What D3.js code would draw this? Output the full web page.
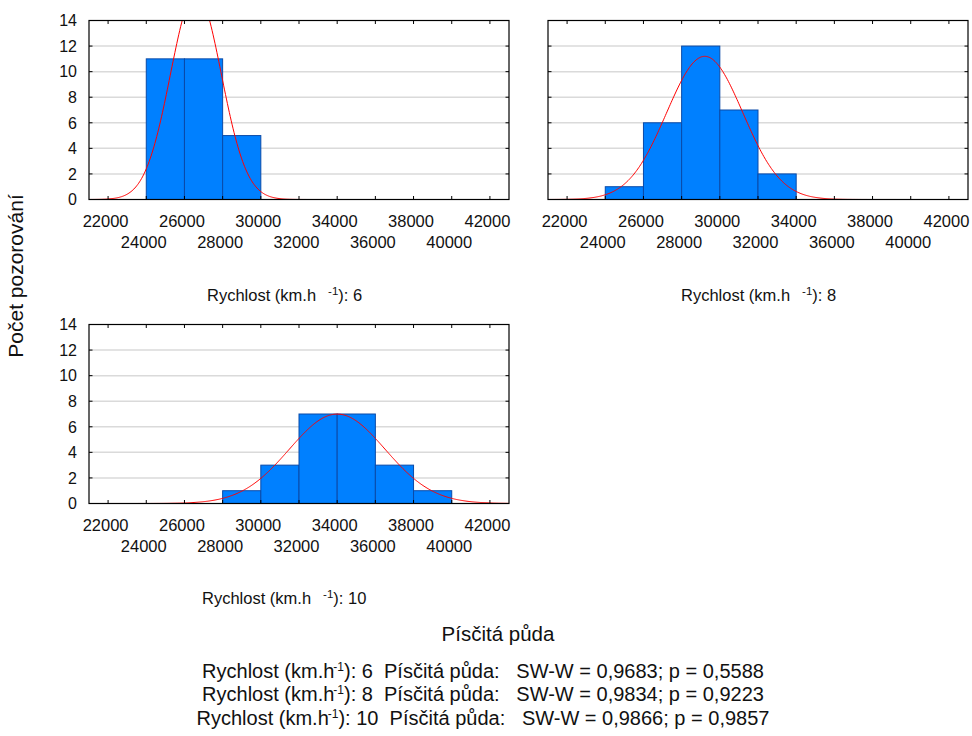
<!DOCTYPE html>
<html>
<head>
<meta charset="utf-8">
<script src="https://cdn.jsdelivr.net/npm/d3@7"></script>
<style>
  body { margin: 0; background: #fff; }
  svg { display: block; font-family: "Liberation Sans", Arial, sans-serif; }
</style>
</head>
<body>
<svg id="chart" width="972" height="736"></svg>
<script>
// ---- data ----
const binStarts = [22000, 24000, 26000, 28000, 30000, 32000, 34000, 36000, 38000, 40000];
const binWidth = 2000;
const counts6  = [0, 11, 11, 5, 0, 0, 0, 0, 0, 0];
const counts8  = [0, 1, 6, 12, 7, 2, 0, 0, 0, 0];
const counts10 = [0, 0, 0, 1, 3, 7, 7, 3, 1, 0];
const fitMeans = [26600, 29210, 34000];
const fitSDs   = [1330, 1995, 2510];
const speeds   = ["6", "8", "10"];
const xTickValues = [22000, 24000, 26000, 28000, 30000, 32000, 34000, 36000, 38000, 40000, 42000];
const yTickValues = [0, 2, 4, 6, 8, 10, 12, 14];
const swW = ["0,9683", "0,9834", "0,9866"];
const pVals = ["0,5588", "0,9223", "0,9857"];
const yTitle = "Počet pozorování";
const soilTitle = "Písčitá půda";

// ---- layout ----
const panels = [
  { counts: counts6,  left: 89,  right: 509, top: 20.5,  bottom: 199.5, labelX: 207, labelY: 301 },
  { counts: counts8,  left: 548, right: 968, top: 20.5,  bottom: 199.5, labelX: 681, labelY: 301 },
  { counts: counts10, left: 89,  right: 509, top: 324.5, bottom: 503.5, labelX: 202, labelY: 604 }
];

const svg = d3.select("#chart");
const defs = svg.append("defs");

panels.forEach((p, i) => {
  const x = d3.scaleLinear().domain([21000, 43000]).range([p.left, p.right]);
  const y = d3.scaleLinear().domain([0, 14]).range([p.bottom, p.top]);
  const g = svg.append("g");

  defs.append("clipPath").attr("id", "clip" + i)
    .append("rect").attr("x", p.left).attr("y", p.top)
    .attr("width", p.right - p.left).attr("height", p.bottom - p.top);

  // gridlines
  g.selectAll(".grid").data(yTickValues.filter(v => v > 0 && v < 14)).enter()
    .append("line")
    .attr("x1", p.left).attr("x2", p.right)
    .attr("y1", d => y(d)).attr("y2", d => y(d))
    .attr("stroke", "#dadada").attr("stroke-width", 1.5);

  const data = binStarts.map((b, k) => ({ x0: b, x1: b + binWidth, n: p.counts[k] }));
  const cg = g.append("g").attr("clip-path", `url(#clip${i})`);
  // zero baseline of empty bins
  cg.append("line").attr("x1", p.left).attr("x2", p.right)
    .attr("y1", y(0)).attr("y2", y(0))
    .attr("stroke", "#1a3f8f").attr("stroke-width", 1.2);
  cg.selectAll(".bar").data(data.filter(d => d.n > 0)).enter()
    .append("rect")
    .attr("x", d => x(d.x0)).attr("width", d => x(d.x1) - x(d.x0))
    .attr("y", d => y(d.n)).attr("height", d => y(0) - y(d.n))
    .attr("fill", "#0080ff").attr("stroke", "#0a4aa8").attr("stroke-width", 1);

  // fitted normal curve
  const n = d3.sum(p.counts);
  const mu = fitMeans[i], sd = fitSDs[i];
  const xs = d3.range(21000, 43001, 50);
  const line = d3.line()
    .x(v => x(v))
    .y(v => y(n * binWidth / (sd * Math.sqrt(2 * Math.PI)) * Math.exp(-((v - mu) ** 2) / (2 * sd * sd))));
  cg.append("path").datum(xs).attr("d", line)
    .attr("fill", "none").attr("stroke", "#ff0000").attr("stroke-width", 1);

  // frame
  g.append("rect").attr("x", p.left).attr("y", p.top)
    .attr("width", p.right - p.left).attr("height", p.bottom - p.top)
    .attr("fill", "none").attr("stroke", "#000").attr("stroke-width", 1.2);

  // inside ticks
  const tl = 3.5;
  xTickValues.forEach(v => {
    g.append("line").attr("x1", x(v)).attr("x2", x(v)).attr("y1", p.top).attr("y2", p.top + tl).attr("stroke", "#000");
    g.append("line").attr("x1", x(v)).attr("x2", x(v)).attr("y1", p.bottom).attr("y2", p.bottom - tl).attr("stroke", "#000");
  });
  yTickValues.forEach(v => {
    g.append("line").attr("x1", p.left).attr("x2", p.left + tl).attr("y1", y(v)).attr("y2", y(v)).attr("stroke", "#000");
    g.append("line").attr("x1", p.right).attr("x2", p.right - tl).attr("y1", y(v)).attr("y2", y(v)).attr("stroke", "#000");
  });

  // y tick labels (only panels on the left)
  if (p.left < 300) {
    g.selectAll(".yl").data(yTickValues).enter().append("text")
      .attr("x", p.left - 12).attr("y", d => y(d) + 5.8)
      .attr("text-anchor", "end").attr("font-size", 16).attr("fill", "#111")
      .text(d => d);
  }
  // x tick labels, staggered
  g.selectAll(".xl").data(xTickValues).enter().append("text")
    .attr("x", d => x(d) - 2.5)
    .attr("y", (d, k) => p.bottom + (k % 2 === 0 ? 27 : 48))
    .attr("text-anchor", "middle").attr("font-size", 16.5).attr("fill", "#111")
    .text(d => d);

  // panel label
  const t = svg.append("text").attr("x", p.labelX).attr("y", p.labelY)
    .attr("font-size", 16.5).attr("fill", "#111");
  t.append("tspan").text("Rychlost (km.h");
  t.append("tspan").attr("dx", 12).attr("dy", -6).attr("font-size", 11.5).text("-1");
  t.append("tspan").attr("dy", 6).text("): " + speeds[i]);
});

// y axis title
svg.append("text")
  .attr("transform", "translate(23,276) rotate(-90)")
  .attr("text-anchor", "middle").attr("font-size", 21).attr("fill", "#111")
  .text(yTitle);

// bottom title and stats
svg.append("text").attr("x", 498).attr("y", 641)
  .attr("text-anchor", "middle").attr("font-size", 20.5).attr("fill", "#111")
  .text(soilTitle);

speeds.forEach((s, i) => {
  const t = svg.append("text").attr("x", 483).attr("y", 678 + i * 23.3)
    .attr("text-anchor", "middle").attr("font-size", 20).attr("fill", "#111");
  t.append("tspan").text("Rychlost (km.h");
  t.append("tspan").attr("dx", -1).attr("dy", -7).attr("font-size", 12).text("-1");
  t.append("tspan").attr("dy", 7).text("): " + s + "\u00a0\u00a0" + soilTitle + ":\u00a0\u00a0\u00a0SW-W = " + swW[i] + "; p = " + pVals[i]);
});
</script>
</body>
</html>
